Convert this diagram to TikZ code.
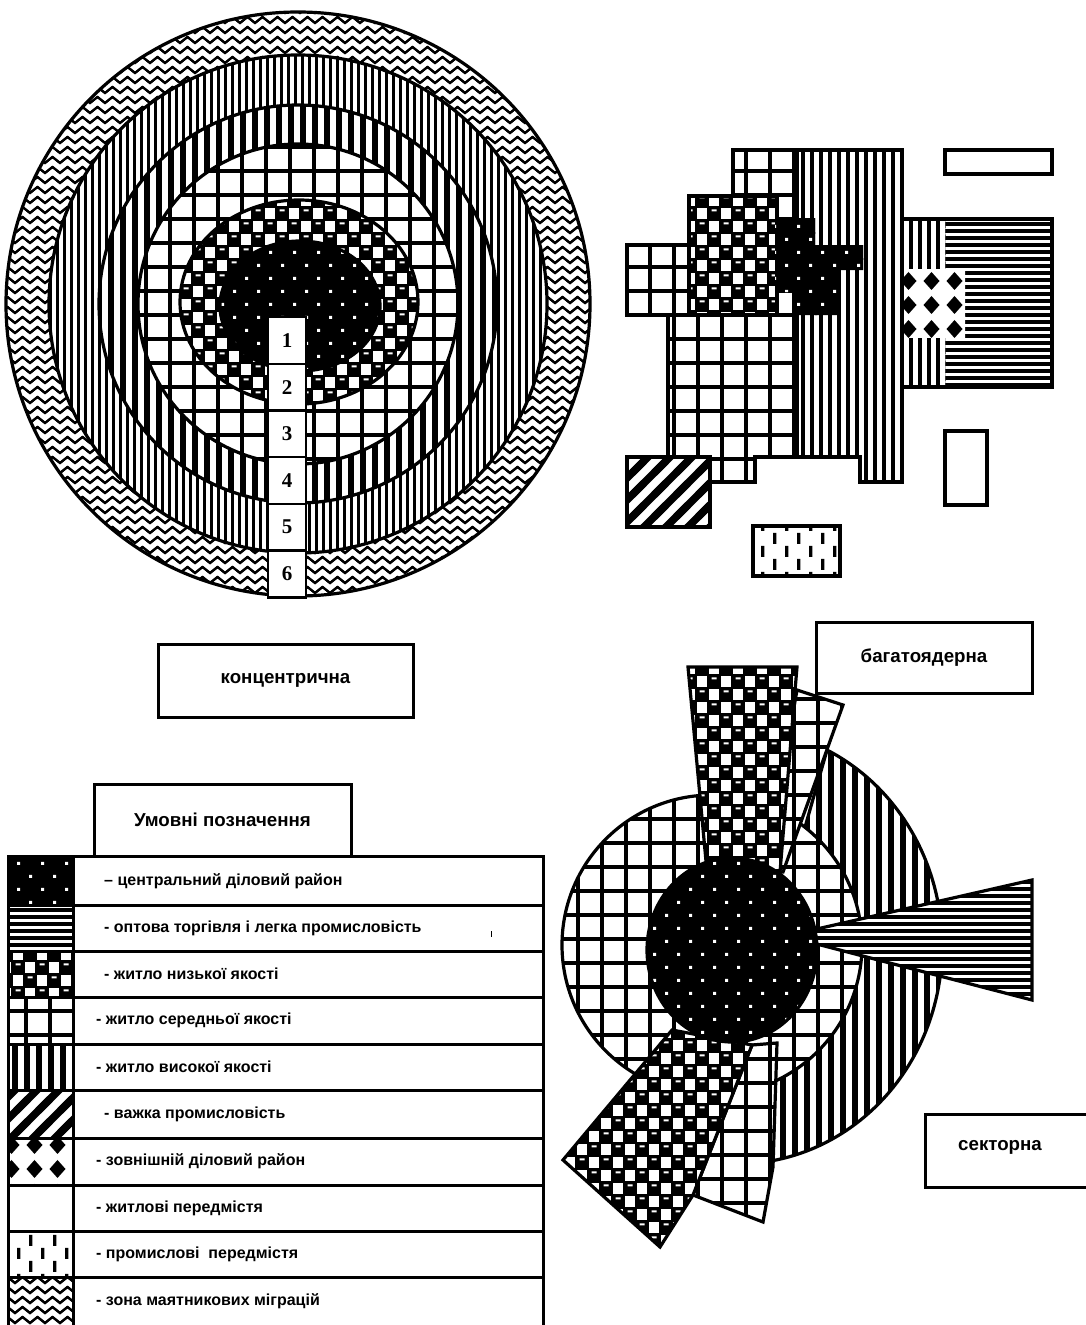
\documentclass[tikz,border=0pt]{standalone}
\usepackage{fontspec}
\setmainfont{Liberation Sans}
\newfontfamily\numfont{Liberation Serif}
\usetikzlibrary{patterns}

% draws #3 shifted over a 3x3 block of tiles (W=#1, H=#2), so that tiles overlap seamlessly
\newcommand{\mytile}[3]{\foreach \ii in {-1,0,1}{\foreach \jj in {-1,0,1}{%
  \begin{pgfscope}\pgftransformshift{\pgfpoint{\ii*#1}{\jj*#2}}#3\end{pgfscope}}}}

% ---------- patterns (1pt = 1px), bbox 1pt larger than the step ----------
\pgfdeclarepatterninherentlycolored{cbdp}{\pgfpoint{-1pt}{-1pt}}{\pgfpoint{25pt}{27pt}}{\pgfpoint{24pt}{26pt}}{%
 \pgfsetfillcolor{black}\pgfpathrectangle{\pgfpoint{-1pt}{-1pt}}{\pgfpoint{26pt}{28pt}}\pgfusepath{fill}%
 \pgfsetfillcolor{white}%
 \mytile{24pt}{26pt}{\pgfpathrectangle{\pgfpoint{5pt}{5pt}}{\pgfpoint{3pt}{3pt}}%
 \pgfpathrectangle{\pgfpoint{17pt}{18pt}}{\pgfpoint{3pt}{3pt}}\pgfusepath{fill}}}
\pgfdeclarepatterninherentlycolored{lowqp}{\pgfpoint{-1pt}{-1pt}}{\pgfpoint{25pt}{27pt}}{\pgfpoint{24pt}{26pt}}{%
 \pgfsetfillcolor{white}\pgfpathrectangle{\pgfpoint{-1pt}{-1pt}}{\pgfpoint{26pt}{28pt}}\pgfusepath{fill}%
 \pgfsetfillcolor{black}%
 \mytile{24pt}{26pt}{\pgfpathrectangle{\pgfpoint{-0.8pt}{-0.8pt}}{\pgfpoint{13.6pt}{14.6pt}}%
 \pgfpathrectangle{\pgfpoint{11.2pt}{12.2pt}}{\pgfpoint{13.6pt}{14.6pt}}\pgfusepath{fill}}%
 \pgfsetfillcolor{white}%
 \mytile{24pt}{26pt}{\pgfpathrectangle{\pgfpoint{3.5pt}{8.5pt}}{\pgfpoint{5pt}{2.2pt}}%
 \pgfpathrectangle{\pgfpoint{15.5pt}{21.5pt}}{\pgfpoint{5pt}{2.2pt}}\pgfusepath{fill}}}
\pgfdeclarepatterninherentlycolored{medqp}{\pgfpoint{-1pt}{-1pt}}{\pgfpoint{25pt}{25pt}}{\pgfpoint{24pt}{24pt}}{%
 \pgfsetfillcolor{white}\pgfpathrectangle{\pgfpoint{-1pt}{-1pt}}{\pgfpoint{26pt}{26pt}}\pgfusepath{fill}%
 \pgfsetfillcolor{black}%
 \mytile{24pt}{24pt}{\pgfpathrectangle{\pgfpoint{0pt}{-1pt}}{\pgfpoint{3.8pt}{26pt}}%
 \pgfpathrectangle{\pgfpoint{-1pt}{0pt}}{\pgfpoint{26pt}{3.8pt}}\pgfusepath{fill}}}
\pgfdeclarepatterninherentlycolored{hlinep}{\pgfpoint{-1pt}{-1pt}}{\pgfpoint{8pt}{8pt}}{\pgfpoint{7pt}{7pt}}{%
 \pgfsetfillcolor{white}\pgfpathrectangle{\pgfpoint{-1pt}{-1pt}}{\pgfpoint{9pt}{9pt}}\pgfusepath{fill}%
 \pgfsetfillcolor{black}%
 \mytile{7pt}{7pt}{\pgfpathrectangle{\pgfpoint{-1pt}{0pt}}{\pgfpoint{9pt}{3.5pt}}\pgfusepath{fill}}}
\pgfdeclarepatterninherentlycolored{vthickp}{\pgfpoint{-1pt}{-1pt}}{\pgfpoint{13pt}{13pt}}{\pgfpoint{12pt}{12pt}}{%
 \pgfsetfillcolor{white}\pgfpathrectangle{\pgfpoint{-1pt}{-1pt}}{\pgfpoint{14pt}{14pt}}\pgfusepath{fill}%
 \pgfsetfillcolor{black}%
 \mytile{12pt}{12pt}{\pgfpathrectangle{\pgfpoint{0pt}{-1pt}}{\pgfpoint{6pt}{14pt}}\pgfusepath{fill}}}
\pgfdeclarepatterninherentlycolored{vmidp}{\pgfpoint{-1pt}{-1pt}}{\pgfpoint{10pt}{10pt}}{\pgfpoint{9pt}{9pt}}{%
 \pgfsetfillcolor{white}\pgfpathrectangle{\pgfpoint{-1pt}{-1pt}}{\pgfpoint{11pt}{11pt}}\pgfusepath{fill}%
 \pgfsetfillcolor{black}%
 \mytile{9pt}{9pt}{\pgfpathrectangle{\pgfpoint{0pt}{-1pt}}{\pgfpoint{4.3pt}{11pt}}\pgfusepath{fill}}}
\pgfdeclarepatterninherentlycolored{vthinp}{\pgfpoint{-1pt}{-1pt}}{\pgfpoint{8pt}{8pt}}{\pgfpoint{7pt}{7pt}}{%
 \pgfsetfillcolor{white}\pgfpathrectangle{\pgfpoint{-1pt}{-1pt}}{\pgfpoint{9pt}{9pt}}\pgfusepath{fill}%
 \pgfsetfillcolor{black}%
 \mytile{7pt}{7pt}{\pgfpathrectangle{\pgfpoint{0pt}{-1pt}}{\pgfpoint{3.3pt}{9pt}}\pgfusepath{fill}}}
\pgfdeclarepatterninherentlycolored{diagp}{\pgfpoint{-1pt}{-1pt}}{\pgfpoint{23pt}{23pt}}{\pgfpoint{22pt}{22pt}}{%
 \pgfsetfillcolor{white}\pgfpathrectangle{\pgfpoint{-1pt}{-1pt}}{\pgfpoint{24pt}{24pt}}\pgfusepath{fill}%
 \pgfsetstrokecolor{black}\pgfsetlinewidth{7.5pt}%
 \mytile{22pt}{22pt}{\pgfpathmoveto{\pgfpoint{-6pt}{-6pt}}\pgfpathlineto{\pgfpoint{28pt}{28pt}}\pgfusepath{stroke}}}
\pgfdeclarepatterninherentlycolored{diamp}{\pgfpoint{-1pt}{-1pt}}{\pgfpoint{24pt}{25pt}}{\pgfpoint{23pt}{24pt}}{%
 \pgfsetfillcolor{white}\pgfpathrectangle{\pgfpoint{-1pt}{-1pt}}{\pgfpoint{25pt}{26pt}}\pgfusepath{fill}%
 \pgfsetfillcolor{black}%
 \mytile{23pt}{24pt}{\pgfpathmoveto{\pgfpoint{11.5pt}{3pt}}\pgfpathlineto{\pgfpoint{19.5pt}{12pt}}%
 \pgfpathlineto{\pgfpoint{11.5pt}{21pt}}\pgfpathlineto{\pgfpoint{3.5pt}{12pt}}\pgfpathclose\pgfusepath{fill}}}
\pgfdeclarepatterninherentlycolored{indp}{\pgfpoint{-1pt}{-1pt}}{\pgfpoint{25pt}{27pt}}{\pgfpoint{24pt}{26pt}}{%
 \pgfsetfillcolor{white}\pgfpathrectangle{\pgfpoint{-1pt}{-1pt}}{\pgfpoint{26pt}{28pt}}\pgfusepath{fill}%
 \pgfsetfillcolor{black}%
 \mytile{24pt}{26pt}{\pgfpathrectangle{\pgfpoint{5pt}{1pt}}{\pgfpoint{3.4pt}{11pt}}%
 \pgfpathrectangle{\pgfpoint{17pt}{14pt}}{\pgfpoint{3.4pt}{11pt}}\pgfusepath{fill}}}
\pgfdeclarepatterninherentlycolored{zigp}{\pgfpoint{-1pt}{-1pt}}{\pgfpoint{16pt}{11pt}}{\pgfpoint{15pt}{10pt}}{%
 \pgfsetfillcolor{white}\pgfpathrectangle{\pgfpoint{-1pt}{-1pt}}{\pgfpoint{17pt}{12pt}}\pgfusepath{fill}%
 \pgfsetstrokecolor{black}\pgfsetlinewidth{2.2pt}\pgfsetmiterjoin%
 \mytile{15pt}{10pt}{\pgfpathmoveto{\pgfpoint{-7.5pt}{8pt}}\pgfpathlineto{\pgfpoint{0pt}{2pt}}%
 \pgfpathlineto{\pgfpoint{7.5pt}{8pt}}\pgfpathlineto{\pgfpoint{15pt}{2pt}}%
 \pgfpathlineto{\pgfpoint{22.5pt}{8pt}}\pgfusepath{stroke}}}

\begin{document}
\begin{tikzpicture}[x=1pt,y=-1pt,
  ol/.style={draw=black, line width=3.2pt, line join=miter},
  titlebox/.style={draw, line width=3pt, fill=white, inner sep=0pt,
    font=\bfseries\fontsize{18.7}{22}\selectfont},
  numbox/.style={draw, line width=2.5pt, fill=white, inner sep=0pt,
    minimum width=38pt, minimum height=46.7pt, font=\numfont\bfseries\fontsize{21}{24}\selectfont},
  legtext/.style={anchor=west, inner sep=0pt, font=\bfseries\fontsize{16}{19}\selectfont},
  plaintext/.style={inner sep=0pt, font=\bfseries\fontsize{18.7}{22}\selectfont}]
\useasboundingbox (0,0) rectangle (1086,1325);
\fill[white] (0,0) rectangle (1086,1325);

% ================= concentric =================
\path[pattern=zigp, ol] (298,304) circle[radius=292];
\path[pattern=vthinp, ol] (298,304) circle[radius=249];
\path[pattern=vthickp, ol] (298,304) circle[radius=199];
\path[pattern=medqp, ol] (298,304) circle[radius=160];
\path[pattern=lowqp, ol] (299,302) ellipse[x radius=119, y radius=102];
\path[pattern=cbdp, ol] (300,306) ellipse[x radius=80, y radius=65];
\node[numbox] (n1) at (287,340.4) {1};
\node[numbox] (n2) at (287,387.1) {2};
\node[numbox] (n3) at (287,433.8) {3};
\node[numbox] (n4) at (287,480.5) {4};
\node[numbox] (n5) at (287,527.2) {5};
\node[numbox] (n6) at (287,573.9) {6};

\node[titlebox, minimum width=255pt, minimum height=73pt] (conc) at (285.5,680.5) {концентрична};

% ================= multi-nuclear =================
\path[pattern=diagp, ol] (627,457) rectangle (710,527);
\path[pattern=medqp, ol] (733,150) -- (797,150) -- (797,457) -- (755,457) -- (755,482)
  -- (710,482) -- (710,457) -- (668,457) -- (668,315) -- (627,315) -- (627,245)
  -- (689,245) -- (689,196) -- (733,196) -- cycle;
\path[pattern=lowqp, ol] (689,196) rectangle (777,315);
\path[pattern=vmidp, ol] (797,150) -- (902,150) -- (902,482) -- (860,482) -- (860,457) -- (797,457) -- cycle;
\path[pattern=cbdp] (775,218) -- (815,218) -- (815,245) -- (863,245) -- (863,270) -- (840,270)
  -- (840,315) -- (797,315) -- (797,292) -- (775,292) -- cycle;
\path[pattern=hlinep] (902,219) rectangle (1052,387);
\path[pattern=vmidp] (902,219) rectangle (945,268);
\path[pattern=vmidp] (902,337) rectangle (945,387);
\path[pattern=diamp] (902,270) rectangle (965,337);
\draw[ol] (902,219) rectangle (1052,387);
\draw[ol] (945,150) rectangle (1052,174);
\draw[ol] (945,431) rectangle (987,505);
\path[pattern=indp, ol] (753,526) rectangle (840,576);

\node[titlebox, minimum width=216pt, minimum height=71pt] (multi) at (924,657.5) {багатоядерна};

% ================= sector =================
\path[pattern=vthickp, ol] (770,950) -- (827,750)
  arc[start angle=-64, end angle=80, x radius=205, y radius=218]
  -- (776,1043) -- cycle;
\path[pattern=medqp, ol] (712,945) circle[radius=150];
\path[pattern=medqp, ol] (797,690) -- (843,705) -- (783,872) -- (765,872) -- cycle;
\path[pattern=lowqp, ol] (688,667) -- (797,667) -- (780,872) -- (707,872) -- cycle;
\path[pattern=hlinep, ol] (1032,880) -- (1032,1000) -- (786,936) -- cycle;
\path[pattern=medqp, ol] (693,1195) -- (752,1045) -- (777,1043) -- (773,1167) -- (763,1222) -- cycle;
\path[pattern=lowqp, ol] (563,1160) -- (672,1030) -- (752,1045) -- (693,1195) -- (660,1247) -- cycle;
\path[pattern=cbdp, ol] (732,950) ellipse[x radius=85, y radius=92];

\node[draw, line width=3pt, minimum width=167pt, minimum height=73pt] (sectbox) at (1008.5,1150.5) {};
\node[plaintext] (sect) at (1000,1147) {секторна};

% ================= legend =================
\node[titlebox, minimum width=257pt, minimum height=72pt] (leghead) at (222.5,820) {Умовні позначення};
\path[pattern=cbdp] (8,856) rectangle (73,905);
\path[pattern=hlinep] (8,905) rectangle (73,951);
\path[pattern=lowqp] (8,951) rectangle (73,997);
\path[pattern=medqp] (8,997) rectangle (73,1044);
\path[pattern=vthickp] (8,1044) rectangle (73,1090);
\path[pattern=diagp] (8,1090) rectangle (73,1138);
\path[pattern=diamp] (8,1138) rectangle (73,1185);
\path[pattern=indp] (8,1231) rectangle (73,1277);
\path[pattern=zigp] (8,1277) rectangle (73,1330);
\draw[line width=3pt] (8,1330) -- (8,856) -- (543,856) -- (543,1330);
\draw[line width=3pt] (73,856) -- (73,1330);
\foreach \yy in {905,951,997,1044,1090,1138,1185,1231,1277}
  \draw[line width=3pt] (8,\yy) -- (543,\yy);
\draw[line width=1pt] (491,931) -- (491,937);

\node[legtext] (l1) at (104,881) {– центральний діловий район};
\node[legtext] (l2) at (104,928) {- оптова торгівля і легка промисловість};
\node[legtext] (l3) at (104,974) {- житло низької якості};
\node[legtext] (l4) at (96,1020) {- житло середньої якості};
\node[legtext] (l5) at (96,1067) {- житло високої якості};
\node[legtext] (l6) at (104,1114) {- важка промисловість};
\node[legtext] (l7) at (96,1161) {- зовнішній діловий район};
\node[legtext] (l8) at (96,1208) {- житлові передмістя};
\node[legtext] (l9) at (96,1254) {- промислові\ \ передмістя};
\node[legtext] (l10) at (96,1301) {- зона маятникових міграцій};
\end{tikzpicture}
\end{document}
